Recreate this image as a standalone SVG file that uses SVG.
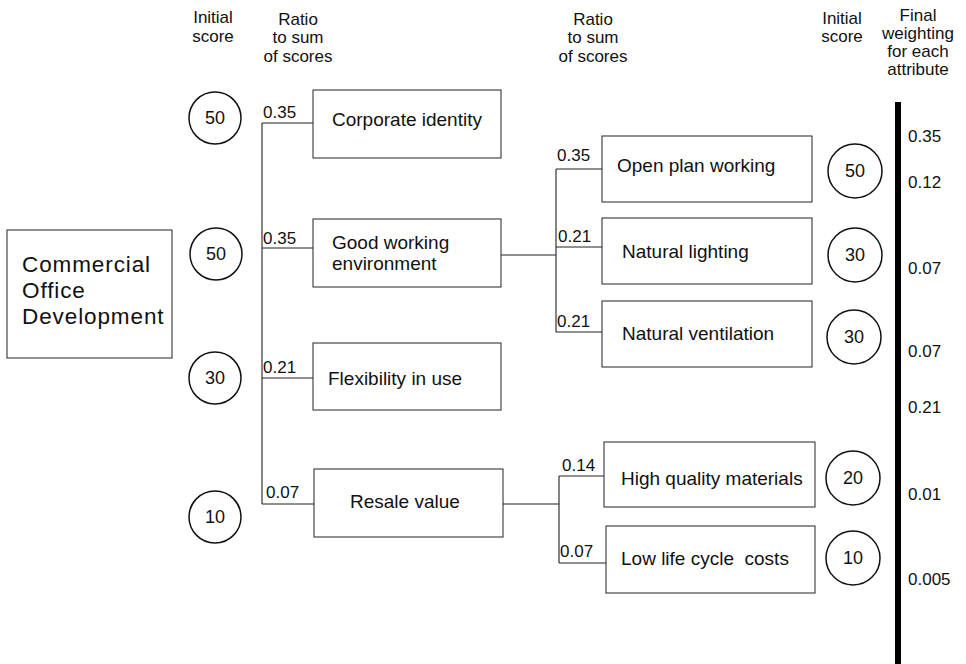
<svg xmlns="http://www.w3.org/2000/svg" width="966" height="664" viewBox="0 0 966 664">
  <style>
    text { font-family: "Liberation Sans", Arial, Helvetica, sans-serif; fill: #111; }
    .hdr { font-size: 17px; text-anchor: middle; }
    .lbl { font-size: 19px; white-space: pre; }
    .big { font-size: 22.5px; letter-spacing: 0.9px; }
    .num { font-size: 17px; }
    .score { font-size: 18px; text-anchor: middle; }
    .box { fill: #fff; stroke: #222; stroke-width: 1; }
    .ring { fill: #fff; stroke: #111; stroke-width: 1.5; }
    .wire { fill: none; stroke: #222; stroke-width: 1.1; }
  </style>
  <rect width="966" height="664" fill="#fff"/>

  <!-- column headings -->
  <g id="headings">
    <text class="hdr"><tspan x="213" y="23">Initial</tspan><tspan x="213" y="42">score</tspan></text>
    <text class="hdr"><tspan x="298" y="25">Ratio</tspan><tspan x="298" y="43">to sum</tspan><tspan x="298" y="62">of scores</tspan></text>
    <text class="hdr"><tspan x="593" y="25">Ratio</tspan><tspan x="593" y="43">to sum</tspan><tspan x="593" y="62">of scores</tspan></text>
    <text class="hdr"><tspan x="842" y="24">Initial</tspan><tspan x="842" y="42">score</tspan></text>
    <text class="hdr"><tspan x="918" y="21">Final</tspan><tspan x="918" y="39">weighting</tspan><tspan x="918" y="57">for each</tspan><tspan x="918" y="75">attribute</tspan></text>
  </g>

  <!-- connectors -->
  <g id="connectors" class="wire">
    <path d="M262,123 V504 M262,123 H313 M262,248 H313 M262,378 H313 M262,504 H314"/>
    <path d="M501,255 H556 M556,169 V332 M556,169 H602 M556,247 H602 M556,332 H602"/>
    <path d="M503,504 H559 M559,476 V563 M559,476 H604 M559,563 H606"/>
  </g>

  <!-- root -->
  <g id="node-root">
    <rect class="box" x="7" y="230" width="165" height="128"/>
    <text class="big"><tspan x="22" y="272">Commercial</tspan><tspan x="22" y="298">Office</tspan><tspan x="22" y="324">Development</tspan></text>
  </g>

  <!-- first level attributes -->
  <g id="node-corporate">
    <circle class="ring" cx="215" cy="118" r="26"/>
    <text class="score" x="215" y="124">50</text>
    <text class="num" x="263" y="118">0.35</text>
    <rect class="box" x="313" y="90" width="188" height="68"/>
    <text class="lbl" x="332" y="126">Corporate identity</text>
  </g>
  <g id="node-environment">
    <circle class="ring" cx="216" cy="254" r="26"/>
    <text class="score" x="216" y="260">50</text>
    <text class="num" x="263" y="244">0.35</text>
    <rect class="box" x="313" y="219" width="188" height="68"/>
    <text class="lbl"><tspan x="332" y="249">Good working</tspan><tspan x="332" y="270">environment</tspan></text>
  </g>
  <g id="node-flexibility">
    <circle class="ring" cx="215" cy="378" r="26"/>
    <text class="score" x="215" y="384">30</text>
    <text class="num" x="263" y="373">0.21</text>
    <rect class="box" x="313" y="343" width="188" height="67"/>
    <text class="lbl" x="328" y="385">Flexibility in use</text>
  </g>
  <g id="node-resale">
    <circle class="ring" cx="215" cy="517" r="26"/>
    <text class="score" x="215" y="523">10</text>
    <text class="num" x="266" y="498">0.07</text>
    <rect class="box" x="314" y="469" width="189" height="68"/>
    <text class="lbl" x="350" y="508">Resale value</text>
  </g>

  <!-- second level attributes -->
  <g id="node-openplan">
    <text class="num" x="557" y="161">0.35</text>
    <rect class="box" x="602" y="136" width="210" height="66"/>
    <text class="lbl" x="617" y="172">Open plan working</text>
    <circle class="ring" cx="855" cy="171" r="27"/>
    <text class="score" x="855" y="177">50</text>
  </g>
  <g id="node-lighting">
    <text class="num" x="558" y="242">0.21</text>
    <rect class="box" x="602" y="218" width="210" height="66"/>
    <text class="lbl" x="622" y="258">Natural lighting</text>
    <circle class="ring" cx="855" cy="255" r="27"/>
    <text class="score" x="855" y="261">30</text>
  </g>
  <g id="node-ventilation">
    <text class="num" x="557" y="327">0.21</text>
    <rect class="box" x="602" y="301" width="210" height="66"/>
    <text class="lbl" x="622" y="340">Natural ventilation</text>
    <circle class="ring" cx="854" cy="337" r="27"/>
    <text class="score" x="854" y="343">30</text>
  </g>
  <g id="node-materials">
    <text class="num" x="562" y="471">0.14</text>
    <rect class="box" x="604" y="442" width="211" height="65"/>
    <text class="lbl" x="621" y="485">High quality materials</text>
    <circle class="ring" cx="853" cy="478" r="27"/>
    <text class="score" x="853" y="484">20</text>
  </g>
  <g id="node-lifecycle">
    <text class="num" x="560" y="557">0.07</text>
    <rect class="box" x="606" y="526" width="209" height="67"/>
    <text class="lbl" x="621" y="565">Low life cycle  costs</text>
    <circle class="ring" cx="853" cy="558" r="27"/>
    <text class="score" x="853" y="564">10</text>
  </g>

  <!-- final weighting column -->
  <g id="final-weights">
    <rect x="895" y="102" width="6" height="562" fill="#000"/>
    <text class="num" x="908" y="142">0.35</text>
    <text class="num" x="908" y="188">0.12</text>
    <text class="num" x="908" y="274">0.07</text>
    <text class="num" x="908" y="357">0.07</text>
    <text class="num" x="908" y="413">0.21</text>
    <text class="num" x="908" y="500">0.01</text>
    <text class="num" x="908" y="585">0.005</text>
  </g>
</svg>
